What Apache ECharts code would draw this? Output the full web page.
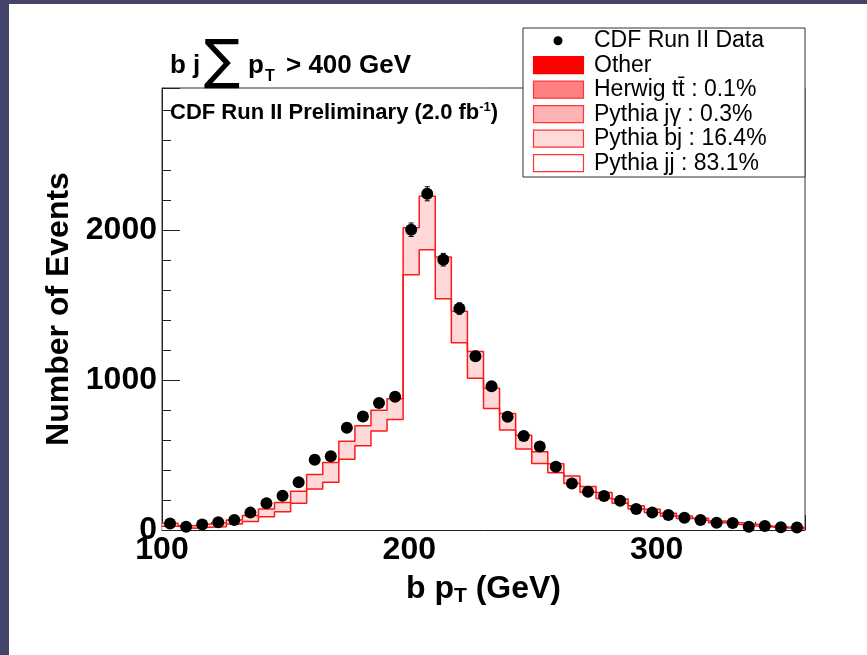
<!DOCTYPE html>
<html><head><meta charset="utf-8">
<script src="https://cdn.jsdelivr.net/npm/echarts@6/dist/echarts.min.js"></script>
<style>html,body{margin:0;padding:0;background:#ffffff;}#c{width:867px;height:655px;}</style>
</head><body><div id="c"></div>
<script>
// ---- data ----
const binStart = 100;
const binWidth = 6.5;
const dataCounts = [44,22,36,51,67,116,178,229,318,469,493,682,758,847,889,2004,2244,1804,1478,1160,960,756,627,558,422,311,256,227,196,140,116,100,82,67,49,47,22,27,18,16];
const dataErrors = [7,5,6,7,8,11,13,15,18,22,22,26,28,29,30,45,47,42,38,34,31,27,25,24,21,18,16,15,14,12,11,10,9,8,7,7,5,5,4,4];
const totalStack = [45,28,40,49,67,96,140,184,258,371,451,593,696,800,876,2018,2227,1822,1460,1191,946,778,633,522,442,360,290,250,207,162,138,111,93,78,60,49,38,27,20,16];
const pythiaJJ = [25,12,18,22,40,56,89,122,178,273,318,473,562,660,738,1704,1871,1544,1249,1013,811,667,540,444,382,311,252,211,178,140,116,93,76,64,49,36,27,20,13,9];
const xTicks = [100,200,300];
const yTicks = [0,1000,2000];
const legendLabels = ['CDF Run II Data','Other','Herwig tt\u0304 : 0.1%','Pythia j\u03b3 : 0.3%','Pythia bj : 16.4%','Pythia jj : 83.1%'];

// ---- build ----
const nBins = dataCounts.length;
const xMax = binStart + binWidth * nBins;
function stepData(vals){
  const d = vals.map((v,i)=>[binStart + binWidth*i, v]);
  d.push([xMax, vals[vals.length-1]]);
  return d;
}
const pts = dataCounts.map((v,i)=>[binStart + binWidth*(i+0.5), v]);
const errs = dataCounts.map((v,i)=>[binStart + binWidth*(i+0.5), v, dataErrors[i]]);

const FONT = 'Liberation Sans, Arial, Helvetica, sans-serif';
const RED = '#ff1a1a';

const legendSw = [
  null,
  {fill:'#ff0000', stroke:'#ff0000'},
  {fill:'#ff8080', stroke:'#ff3333'},
  {fill:'#ffb3b3', stroke:'#ff3333'},
  {fill:'#ffdada', stroke:'#ff3333'},
  {fill:'#ffffff', stroke:'#ff3333'}
];
const legendChildren = [
  {type:'rect', shape:{x:523,y:28,width:282,height:149}, style:{fill:'#fff', stroke:'#333', lineWidth:1}}
];
legendLabels.forEach((lab,i)=>{
  const cy = 40.7 + i*24.5;
  if (i===0) {
    legendChildren.push({type:'circle', shape:{cx:558, cy:cy, r:4.5}, style:{fill:'#000'}});
  } else {
    const s = legendSw[i];
    legendChildren.push({type:'rect', shape:{x:533.5, y:cy-8.5, width:50, height:17}, style:{fill:s.fill, stroke:s.stroke, lineWidth:1.2}});
  }
  legendChildren.push({type:'text', style:{x:594, y:cy, text:lab, font:'23px '+FONT, fill:'#000', verticalAlign:'middle', align:'left'}});
});

const chart = echarts.init(document.getElementById('c'), null, {renderer:'canvas'});
chart.setOption({
  animation:false,
  backgroundColor:'#ffffff',
  grid:{left:162, right:62, top:88, bottom:125, show:true, borderColor:'#333', borderWidth:1, backgroundColor:'transparent'},
  xAxis:[{
    type:'value', min:binStart, max:xMax, interval:100, position:'bottom',
    axisLine:{show:true, onZero:false, lineStyle:{color:'#222', width:1}},
    axisTick:{show:true, inside:true, length:15, lineStyle:{color:'#222'}},
    splitLine:{show:false},
    axisLabel:{show:true, margin:4, fontFamily:FONT, fontWeight:'bold', fontSize:32, color:'#000',
      formatter:v=> xTicks.indexOf(v)>=0 ? String(v) : ''},
    name:'b p{sub|T} (GeV)', nameLocation:'middle', nameGap:40,
    nameTextStyle:{fontFamily:FONT, fontWeight:'bold', fontSize:32, color:'#000', lineHeight:36,
      rich:{sub:{fontFamily:FONT, fontWeight:'bold', fontSize:21, color:'#000', verticalAlign:'bottom', lineHeight:36, padding:[14,0,0,0]}}}
  },{
    type:'value', min:binStart, max:xMax, interval:20, position:'bottom',
    axisLine:{show:false}, axisLabel:{show:false}, splitLine:{show:false},
    axisTick:{show:true, inside:true, length:8, lineStyle:{color:'#222'}}
  }],
  yAxis:[{
    type:'value', min:0, max:2950, interval:1000, position:'left',
    axisLine:{show:true, onZero:false, lineStyle:{color:'#222', width:1}},
    axisTick:{show:true, inside:true, length:18, lineStyle:{color:'#222'}},
    splitLine:{show:false},
    axisLabel:{show:true, margin:5, fontFamily:FONT, fontWeight:'bold', fontSize:32, color:'#000',
      formatter:v=> yTicks.indexOf(v)>=0 ? String(v) : ''},
    name:'Number of Events', nameLocation:'middle', nameGap:84, nameRotate:90,
    nameTextStyle:{fontFamily:FONT, fontWeight:'bold', fontSize:32, color:'#000'}
  },{
    type:'value', min:0, max:2950, interval:200, position:'left',
    axisLine:{show:false}, axisLabel:{show:false}, splitLine:{show:false},
    axisTick:{show:true, inside:true, length:9, lineStyle:{color:'#222'}}
  }],
  series:[
    {name:'total', type:'line', step:'end', data:stepData(totalStack), symbol:'none', z:2,
      lineStyle:{width:0, opacity:0}, areaStyle:{color:'#ffd9d9', opacity:1}},
    {name:'jj', type:'line', step:'end', data:stepData(pythiaJJ), symbol:'none', z:3,
      lineStyle:{width:0, opacity:0}, areaStyle:{color:'#ffffff', opacity:1}},
    {name:'totalLine', type:'line', step:'end', data:stepData(totalStack), symbol:'none', z:4,
      lineStyle:{width:1.5, color:RED}},
    {name:'jjLine', type:'line', step:'end', data:stepData(pythiaJJ), symbol:'none', z:4,
      lineStyle:{width:1.5, color:RED}},
    {name:'err', type:'custom', z:5, data:errs, encode:{x:0, y:1},
      renderItem:(params, api)=>{
        const x = api.value(0), v = api.value(1), e = api.value(2);
        const t = api.coord([x, v+e]), b = api.coord([x, v-e]);
        const st = {stroke:'#000', lineWidth:1};
        return {type:'group', children:[
          {type:'line', shape:{x1:t[0], y1:t[1], x2:b[0], y2:b[1]}, style:st},
          {type:'line', shape:{x1:t[0]-2.5, y1:t[1], x2:t[0]+2.5, y2:t[1]}, style:st},
          {type:'line', shape:{x1:b[0]-2.5, y1:b[1], x2:b[0]+2.5, y2:b[1]}, style:st}
        ]};
      }},
    {name:'CDF Run II Data', type:'scatter', data:pts, symbol:'circle', symbolSize:12, z:6,
      itemStyle:{color:'#000', opacity:1}}
  ],
  graphic:[
    {type:'rect', z:100, shape:{x:0,y:0,width:9,height:655}, style:{fill:'#45456b'}},
    {type:'rect', z:100, shape:{x:0,y:0,width:867,height:4}, style:{fill:'#45456b'}},
    {type:'text', z:100, style:{x:170, y:66, text:'b j', font:'bold 26px '+FONT, fill:'#000', verticalAlign:'middle'}},
    {type:'text', z:100, style:{x:204, y:64, text:'\u2211', font:'54px DejaVu Sans, '+FONT, fill:'#000', verticalAlign:'middle'}},
    {type:'text', z:100, style:{x:248, y:66, text:'p', font:'bold 26px '+FONT, fill:'#000', verticalAlign:'middle'}},
    {type:'text', z:100, style:{x:265, y:77, text:'T', font:'bold 16px '+FONT, fill:'#000', verticalAlign:'middle'}},
    {type:'text', z:100, style:{x:286, y:66, text:'> 400 GeV', font:'bold 26px '+FONT, fill:'#000', verticalAlign:'middle'}},
    {type:'text', z:100, style:{x:170, y:113, text:'CDF Run II Preliminary (2.0 fb{sup|-1})', font:'bold 22px '+FONT, fill:'#000', verticalAlign:'middle',
      rich:{sup:{font:'bold 13px '+FONT, verticalAlign:'top', padding:[0,0,12,0]}}}},
    {type:'group', z:101, children:legendChildren}
  ]
});
</script></body></html>
